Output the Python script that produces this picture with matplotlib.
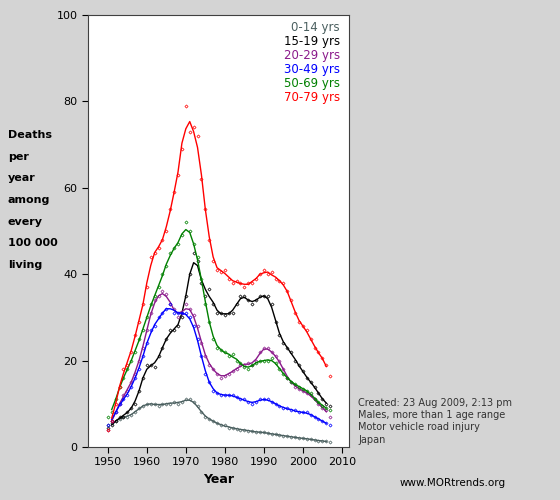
import matplotlib.pyplot as plt
import numpy as np
import pandas as pd

years = list(range(1950, 2008))

age_0_14 = [5, 5.5, 6, 6.5, 7, 7, 7.5, 8, 9, 9.5, 10, 10, 10, 9.5, 10, 10, 10, 10.5, 10, 10.5,
            11, 11, 10.5, 9.5, 8, 7, 6.5, 6, 5.5, 5, 5, 4.5, 4.5, 4.2, 4, 4, 3.8, 3.6, 3.5, 3.4,
            3.4, 3.2, 3, 2.9, 2.8, 2.6, 2.5, 2.4, 2.2, 2.1, 2, 1.9, 1.8, 1.6, 1.5, 1.4, 1.3, 1.1]
age_15_19 = [4.5, 5, 6, 7, 7, 8, 9, 10, 13, 16, 19, 19, 18.5, 21, 23, 25, 27, 27, 28, 30,
             35, 40, 45, 43, 38, 35, 36.5, 33, 31, 31, 30.5, 31, 31, 33, 35, 35, 34, 33, 34, 35,
             35, 35, 33, 29, 26, 24, 23, 22, 20, 19, 17.5, 16, 15, 14, 12.5, 11, 10, 9.5]
age_20_29 = [4, 6, 8, 10, 12, 13, 15, 17, 20, 23, 27, 31, 34, 35, 36, 35.5, 33, 32, 30, 31,
             33, 32, 30.5, 28, 24, 21, 19, 18, 17, 16, 16.5, 17, 17.5, 18, 19, 19, 19.5, 19, 20, 22,
             23, 23, 22, 21, 20, 18, 16, 15, 14, 13.5, 13, 12.5, 12, 11, 10, 9, 8.5, 7]
age_30_49 = [5, 6, 8, 10, 11, 12, 14, 16, 18, 21, 24, 27, 28, 30, 31, 32, 33, 31, 31, 31,
             31, 30, 28, 25, 21, 17, 15, 13, 12.5, 12, 12, 12, 12, 11.5, 11, 11, 10.5, 10, 10.5, 11,
             11, 11, 10.5, 10, 9.5, 9, 9, 8.5, 8.5, 8, 8, 8, 7.5, 7, 6.5, 6, 5.5, 5]
age_50_69 = [7, 8, 11, 14, 16, 18, 20, 22, 25, 27, 30, 33, 35, 37, 40, 42, 45, 46, 47, 49,
             52, 50, 47, 44, 39, 33, 29, 25, 23, 22.5, 22, 21, 21.5, 20, 19.5, 18.5, 18, 19, 19.5, 20,
             20, 20, 20.5, 19.5, 18, 17, 16, 15, 14.5, 14, 13.5, 13, 12.5, 11, 10.5, 9.5, 9, 8.5]
age_70_79 = [4, 6, 10, 14, 18, 19, 22, 26, 29, 33, 37, 44, 45, 46, 48, 50, 55, 59, 63, 69,
             79, 73, 74, 72, 62, 55, 48, 43, 41, 40.5, 41, 39, 38, 38.5, 38, 37, 38, 38, 39, 40,
             41, 40, 40.5, 39, 38.5, 38, 36, 34, 31, 29, 28, 27, 25, 23, 22, 20.5, 19, 16.5]

labels = ["0-14 yrs", "15-19 yrs", "20-29 yrs", "30-49 yrs", "50-69 yrs", "70-79 yrs"]
colors = ["#4a5f5f", "#000000", "#8b1a8b", "#0000ff", "#008000", "#ff0000"]
series = [age_0_14, age_15_19, age_20_29, age_30_49, age_50_69, age_70_79]

fig = plt.figure(figsize=(5.6, 5.0), dpi=100)
fig.patch.set_facecolor("#d4d4d4")
ax = fig.add_axes([0.157, 0.106, 0.466, 0.864])

for vals, color in zip(series, colors):
    s = pd.Series(vals, index=years)
    smooth = s.rolling(3, center=True).mean().dropna()
    ax.plot(smooth.index, smooth.values, color=color, lw=1.0)
    ax.plot(years, vals, ls="none", marker="D", ms=1.6, mfc="none", mec=color, mew=0.5)

ax.set_xlim(1944.9, 2011.8)
ax.set_ylim(0, 100)
ax.set_xticks(range(1950, 2011, 10))
ax.set_yticks(range(0, 101, 20))
ax.tick_params(direction="out", labelsize=8, length=4)
for sp in ax.spines.values():
    sp.set_color("#404040")

for i, (lab, color) in enumerate(zip(labels, colors)):
    ax.text(0.965, 0.985 - i * 0.032, lab, color=color, transform=ax.transAxes,
            ha="right", va="top", fontsize=8.5)

ax.set_xlabel("Year", fontweight="bold", fontsize=9)
fig.text(0.014, 0.6, "Deaths\n\nper\n\nyear\n\namong\n\nevery\n\n100 000\n\nliving",
         fontweight="bold", fontsize=8, ha="left", va="center", linespacing=1.1)

fig.text(0.64, 0.205, "Created: 23 Aug 2009, 2:13 pm\nMales, more than 1 age range\n"
         "Motor vehicle road injury\nJapan", fontsize=7, color="#333333",
         va="top", ha="left", linespacing=1.3)
fig.text(0.713, 0.035, "www.MORtrends.org", fontsize=7.5, ha="left", va="center")

fig.savefig("out.png", dpi=100, facecolor=fig.get_facecolor())
